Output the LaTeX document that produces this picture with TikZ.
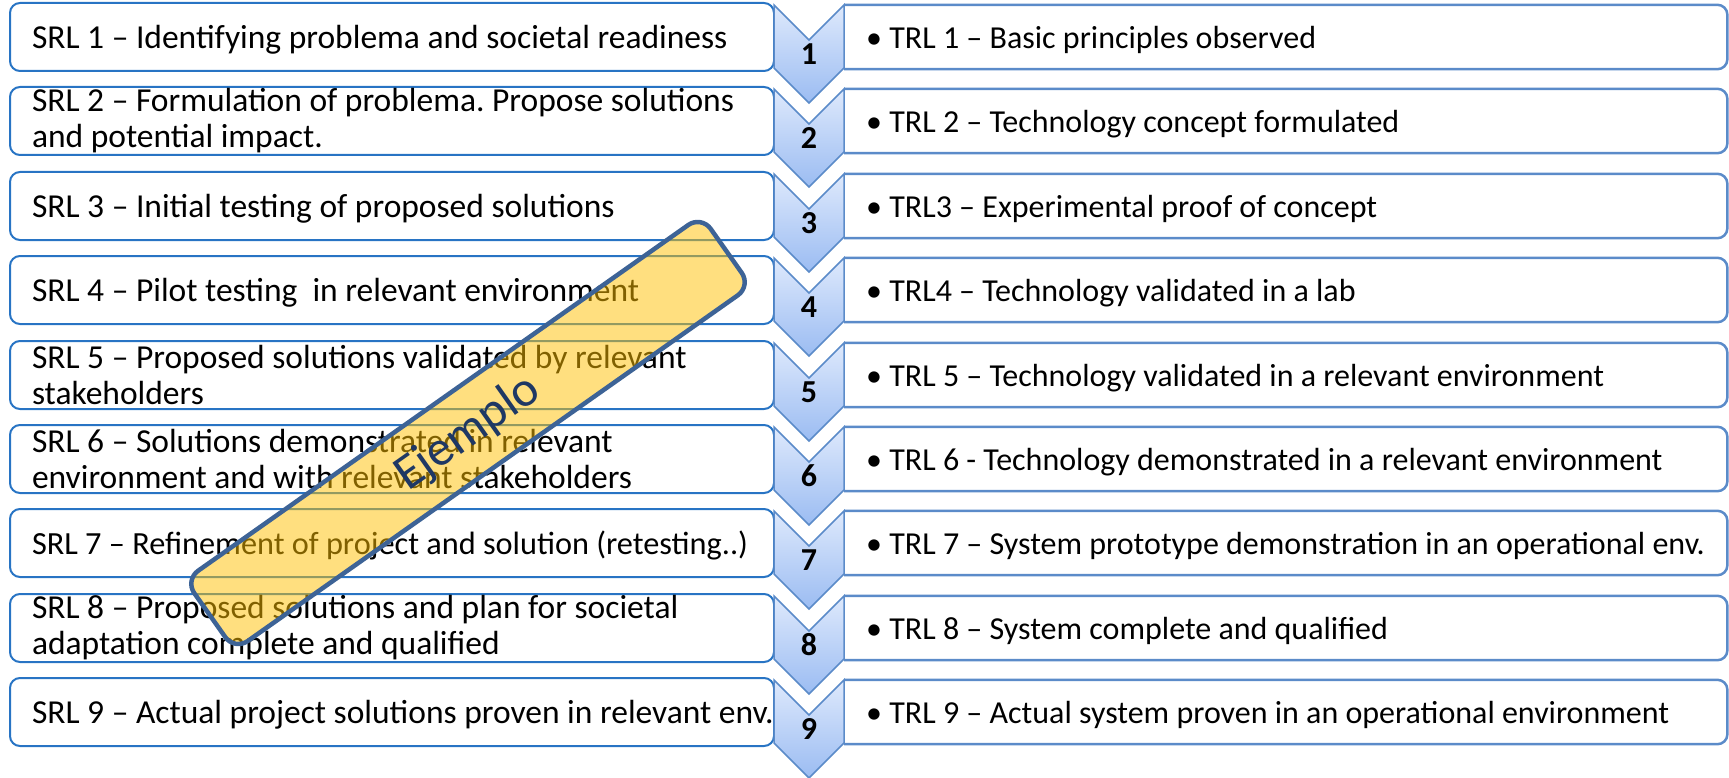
\documentclass[tikz,border=0pt]{standalone}
\usepackage{fontspec}
\setmainfont{Carlito}
\usepackage{tikz}
\definecolor{srlblue}{RGB}{40,116,196}
\definecolor{trlblue}{RGB}{91,139,201}
\definecolor{chevtop}{RGB}{222,233,252}
\definecolor{chevbot}{RGB}{155,188,242}
\definecolor{ejgold}{RGB}{255,192,0}
\definecolor{ejline}{RGB}{61,99,150}
\definecolor{ejtext}{RGB}{31,56,100}
\newcommand{\srlindent}{\leftskip 22pt\spaceskip 0pt\xspaceskip 0pt\frenchspacing\relax}
\newcommand{\trlspacing}{\spaceskip 0pt\xspaceskip 0pt\frenchspacing\relax}
\tikzstyle{sbox}=[anchor=west, draw=srlblue, line width=2pt, rounded corners=10pt, minimum width=764pt, minimum height=68pt, text width=764pt, inner xsep=0pt, inner ysep=0pt, align=left, execute at begin node=\srlindent, font=\fontsize{33.5}{36}\selectfont]
\tikzstyle{oneline}=[text depth=0pt]
\tikzstyle{tbox}=[anchor=west, minimum width=883pt, minimum height=64pt, text width=839pt, inner xsep=22pt, inner ysep=0pt, text depth=0pt, align=left, execute at begin node=\trlspacing, font=\fontsize{32}{36}\selectfont]
\tikzstyle{tline}=[draw=trlblue, line width=2.5pt]
\tikzstyle{chev}=[draw=trlblue, line width=1.5pt, top color=chevtop, bottom color=chevbot, line join=miter]
\tikzstyle{num}=[font=\fontsize{32}{32}\selectfont\bfseries]
\tikzstyle{ejbox}=[rotate=35.2, draw=ejline, line width=4.5pt, rounded corners=16pt, fill=ejgold, fill opacity=0.5, draw opacity=1, text opacity=1, text=ejtext, minimum width=632pt, minimum height=86pt, font=\fontsize{50}{50}\selectfont]

\begin{document}
\begin{tikzpicture}[x=1pt, y=-1pt]
		   \useasboundingbox (0,0) rectangle (1729,778);
		   \begin{scope}
			   \node (s1) at (9, 37)[sbox, oneline] {SRL 1 – Identifying problema and societal readiness};
			   \node (s2) at (9, 121)[sbox] {SRL 2 – Formulation of problema. Propose solutions\\and potential impact.};
			   \node (s3) at (9, 206)[sbox, oneline] {SRL 3 – Initial testing of proposed solutions};
			   \node (s4) at (9, 290)[sbox, oneline] {SRL 4 – Pilot testing\ \ in relevant environment};
			   \node (s5) at (9, 375)[sbox] {SRL 5 – Proposed solutions validated by relevant\\stakeholders};
			   \node (s6) at (9, 459)[sbox] {SRL 6 – Solutions demonstrated in relevant\\environment and with relevant stakeholders};
			   \node (s7) at (9, 543)[sbox, oneline, font=\fontsize{32.3}{36}\selectfont] {SRL 7 – Refinement of project and solution (retesting..)};
			   \node (s8) at (9, 628)[sbox] {SRL 8 – Proposed solutions and plan for societal\\adaptation complete and qualified};
			   \node (s9) at (9, 712)[sbox, oneline] {SRL 9 – Actual project solutions proven in relevant env.};
		   \end{scope}
		   \begin{scope}
			   \node (t1) at (844, 37)[tbox] {• TRL 1 – Basic principles observed};
			   \node (t2) at (844, 121)[tbox] {• TRL 2 – Technology concept formulated};
			   \node (t3) at (844, 206)[tbox] {• TRL3 – Experimental proof of concept};
			   \node (t4) at (844, 290)[tbox] {• TRL4 – Technology validated in a lab};
			   \node (t5) at (844, 375)[tbox] {• TRL 5 – Technology validated in a relevant environment};
			   \node (t6) at (844, 459)[tbox] {• TRL 6 - Technology demonstrated in a relevant environment};
			   \node (t7) at (844, 543)[tbox] {• TRL 7 – System prototype demonstration in an operational env.};
			   \node (t8) at (844, 628)[tbox] {• TRL 8 – System complete and qualified};
			   \node (t9) at (844, 712)[tbox] {• TRL 9 – Actual system proven in an operational environment};
		   \end{scope}
		   \begin{scope}
			   \draw [tline] (t1.north west) [rounded corners=10pt] -- (t1.north east) -- (t1.south east) -- (t1.south west);
			   \draw [tline] (t2.north west) [rounded corners=10pt] -- (t2.north east) -- (t2.south east) -- (t2.south west);
			   \draw [tline] (t3.north west) [rounded corners=10pt] -- (t3.north east) -- (t3.south east) -- (t3.south west);
			   \draw [tline] (t4.north west) [rounded corners=10pt] -- (t4.north east) -- (t4.south east) -- (t4.south west);
			   \draw [tline] (t5.north west) [rounded corners=10pt] -- (t5.north east) -- (t5.south east) -- (t5.south west);
			   \draw [tline] (t6.north west) [rounded corners=10pt] -- (t6.north east) -- (t6.south east) -- (t6.south west);
			   \draw [tline] (t7.north west) [rounded corners=10pt] -- (t7.north east) -- (t7.south east) -- (t7.south west);
			   \draw [tline] (t8.north west) [rounded corners=10pt] -- (t8.north east) -- (t8.south east) -- (t8.south west);
			   \draw [tline] (t9.north west) [rounded corners=10pt] -- (t9.north east) -- (t9.south east) -- (t9.south west);
		   \end{scope}
		   \begin{scope}
			   \draw [chev] (774, 5) -- ++(35, 35) -- ++(35, -35) -- ++(0, 63) -- ++(-35, 35) -- ++(-35, -35) -- cycle;
			   \draw [chev] (774, 89) -- ++(35, 35) -- ++(35, -35) -- ++(0, 63) -- ++(-35, 35) -- ++(-35, -35) -- cycle;
			   \draw [chev] (774, 174) -- ++(35, 35) -- ++(35, -35) -- ++(0, 63) -- ++(-35, 35) -- ++(-35, -35) -- cycle;
			   \draw [chev] (774, 258) -- ++(35, 35) -- ++(35, -35) -- ++(0, 63) -- ++(-35, 35) -- ++(-35, -35) -- cycle;
			   \draw [chev] (774, 343) -- ++(35, 35) -- ++(35, -35) -- ++(0, 63) -- ++(-35, 35) -- ++(-35, -35) -- cycle;
			   \draw [chev] (774, 427) -- ++(35, 35) -- ++(35, -35) -- ++(0, 63) -- ++(-35, 35) -- ++(-35, -35) -- cycle;
			   \draw [chev] (774, 511) -- ++(35, 35) -- ++(35, -35) -- ++(0, 63) -- ++(-35, 35) -- ++(-35, -35) -- cycle;
			   \draw [chev] (774, 596) -- ++(35, 35) -- ++(35, -35) -- ++(0, 63) -- ++(-35, 35) -- ++(-35, -35) -- cycle;
			   \draw [chev] (774, 680) -- ++(35, 35) -- ++(35, -35) -- ++(0, 63) -- ++(-35, 35) -- ++(-35, -35) -- cycle;
			   \node (n1) at (809, 54)[num] {1};
			   \node (n2) at (809, 138)[num] {2};
			   \node (n3) at (809, 223)[num] {3};
			   \node (n4) at (809, 307)[num] {4};
			   \node (n5) at (809, 392)[num] {5};
			   \node (n6) at (809, 476)[num] {6};
			   \node (n7) at (809, 560)[num] {7};
			   \node (n8) at (809, 645)[num] {8};
			   \node (n9) at (809, 729)[num] {9};
		   \end{scope}
		   \node (ej) at (468, 433)[ejbox] {Ejemplo};
	   \end{tikzpicture}
\end{document}
